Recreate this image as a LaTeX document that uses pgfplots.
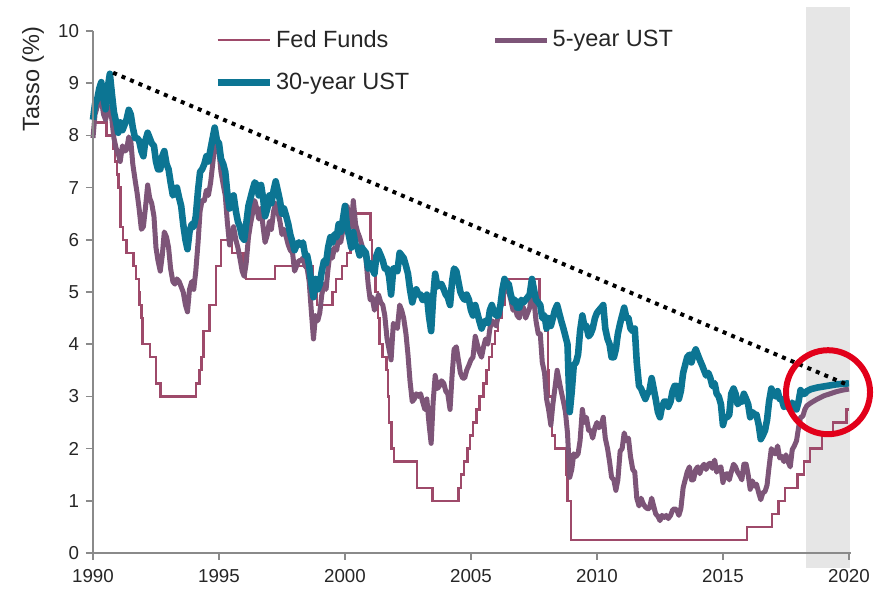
\documentclass[border=0pt]{standalone}
\usepackage{pgfplots}
\usepackage{pgfplotstable}
\pgfplotsset{compat=1.18}
\usepackage{fontspec}
\setmainfont{Liberation Sans}
\definecolor{ffcol}{HTML}{9E4A6A}
\definecolor{fivecol}{HTML}{7D5578}
\definecolor{thirtycol}{HTML}{0C7593}
\definecolor{axisgray}{HTML}{8A8A8A}
\definecolor{labelgray}{HTML}{262626}
\definecolor{shadegray}{HTML}{E6E6E6}
\definecolor{circred}{HTML}{E2001A}

\pgfplotstableread{
x y30 y5
1990.00 8.30 7.95
1990.08 8.60 8.40
1990.17 8.70 8.55
1990.25 8.90 8.75
1990.33 9.02 8.70
1990.42 8.70 8.40
1990.50 8.50 8.30
1990.58 8.90 8.45
1990.67 9.18 8.55
1990.75 8.80 8.30
1990.83 8.45 7.95
1990.92 8.25 7.75
1991.00 8.05 7.65
1991.08 8.25 7.50
1991.17 8.10 7.80
1991.25 8.20 7.70
1991.33 8.30 7.72
1991.42 8.49 7.97
1991.50 8.40 7.90
1991.58 8.15 7.45
1991.67 7.95 7.15
1991.75 7.95 6.90
1991.83 7.90 6.60
1991.92 7.70 6.20
1992.00 7.60 6.25
1992.08 7.90 6.60
1992.17 8.05 7.05
1992.25 7.95 6.80
1992.33 7.85 6.70
1992.42 7.80 6.45
1992.50 7.50 5.85
1992.58 7.35 5.60
1992.67 7.35 5.40
1992.75 7.60 5.70
1992.83 7.70 6.15
1992.92 7.45 6.05
1993.00 7.35 5.85
1993.08 7.10 5.45
1993.17 6.85 5.20
1993.25 6.90 5.15
1993.33 7.00 5.25
1993.42 6.80 5.20
1993.50 6.65 5.10
1993.58 6.30 5.00
1993.67 6.00 4.75
1993.75 5.82 4.62
1993.83 6.15 5.05
1993.92 6.30 5.20
1994.00 6.25 5.05
1994.08 6.45 5.40
1994.17 6.95 5.95
1994.25 7.30 6.55
1994.33 7.35 6.75
1994.42 7.45 6.75
1994.50 7.60 6.95
1994.58 7.50 6.85
1994.67 7.75 7.10
1994.75 7.95 7.45
1994.83 8.15 7.80
1994.92 7.90 7.80
1995.00 7.85 7.70
1995.08 7.55 7.30
1995.17 7.45 7.05
1995.25 7.30 6.85
1995.33 6.90 6.35
1995.42 6.60 5.90
1995.50 6.80 6.05
1995.58 6.85 6.25
1995.67 6.55 6.00
1995.75 6.35 5.85
1995.83 6.25 5.65
1995.92 6.05 5.40
1996.00 6.00 5.30
1996.08 6.30 5.55
1996.17 6.65 6.05
1996.25 6.80 6.30
1996.33 6.95 6.50
1996.42 7.10 6.75
1996.50 7.05 6.60
1996.58 6.85 6.40
1996.67 7.05 6.60
1996.75 6.80 6.25
1996.83 6.45 5.95
1996.92 6.60 6.10
1997.00 6.85 6.35
1997.08 6.70 6.20
1997.17 6.95 6.55
1997.25 7.12 6.70
1997.33 6.95 6.55
1997.42 6.75 6.35
1997.50 6.50 6.10
1997.58 6.60 6.20
1997.67 6.45 6.05
1997.75 6.30 5.90
1997.83 6.10 5.80
1997.92 5.95 5.75
1998.00 5.80 5.40
1998.08 5.90 5.50
1998.17 5.95 5.60
1998.25 5.90 5.60
1998.33 5.95 5.65
1998.42 5.70 5.50
1998.50 5.70 5.45
1998.58 5.50 5.20
1998.67 5.15 4.60
1998.75 4.90 4.10
1998.83 5.25 4.55
1998.92 5.05 4.45
1999.00 5.15 4.60
1999.08 5.40 4.95
1999.17 5.60 5.15
1999.25 5.55 5.05
1999.33 5.85 5.45
1999.42 6.05 5.80
1999.50 5.95 5.65
1999.58 6.10 5.85
1999.67 6.05 5.80
1999.75 6.30 6.05
1999.83 6.15 5.95
1999.92 6.40 6.20
2000.00 6.65 6.55
2000.08 6.25 6.65
2000.17 6.05 6.45
2000.25 5.85 6.25
2000.33 6.15 6.75
2000.42 5.90 6.30
2000.50 5.85 6.15
2000.58 5.70 6.05
2000.67 5.85 5.90
2000.75 5.80 5.75
2000.83 5.75 5.65
2000.92 5.45 5.15
2001.00 5.55 4.85
2001.08 5.45 4.90
2001.17 5.35 4.65
2001.25 5.70 4.80
2001.33 5.80 4.95
2001.42 5.70 4.80
2001.50 5.60 4.75
2001.58 5.45 4.55
2001.67 5.45 4.10
2001.75 5.30 3.90
2001.83 4.95 3.70
2001.92 5.45 4.40
2002.00 5.45 4.35
2002.08 5.40 4.30
2002.17 5.75 4.75
2002.25 5.70 4.65
2002.33 5.65 4.50
2002.42 5.50 4.20
2002.50 5.35 3.80
2002.58 5.05 3.30
2002.67 4.80 2.90
2002.75 4.95 2.95
2002.83 5.05 3.05
2002.92 4.95 3.00
2003.00 4.95 3.05
2003.08 4.85 2.90
2003.17 4.85 2.75
2003.25 4.95 2.95
2003.33 4.55 2.50
2003.42 4.25 2.10
2003.50 4.90 2.90
2003.58 5.35 3.40
2003.67 5.10 3.15
2003.75 5.15 3.20
2003.83 5.15 3.30
2003.92 5.05 3.25
2004.00 4.95 3.10
2004.08 4.90 3.05
2004.17 4.75 2.75
2004.25 5.20 3.40
2004.33 5.45 3.90
2004.42 5.40 3.95
2004.50 5.20 3.70
2004.58 5.00 3.45
2004.67 4.90 3.35
2004.75 4.85 3.35
2004.83 4.95 3.50
2004.92 4.85 3.60
2005.00 4.65 3.70
2005.08 4.55 3.75
2005.17 4.75 4.15
2005.25 4.60 4.00
2005.33 4.45 3.85
2005.42 4.30 3.75
2005.50 4.40 3.95
2005.58 4.45 4.10
2005.67 4.40 4.00
2005.75 4.65 4.30
2005.83 4.75 4.45
2005.92 4.60 4.40
2006.00 4.55 4.35
2006.08 4.55 4.55
2006.17 4.75 4.70
2006.25 5.05 4.90
2006.33 5.25 5.02
2006.42 5.15 5.05
2006.50 5.15 5.00
2006.58 4.95 4.85
2006.67 4.80 4.65
2006.75 4.85 4.70
2006.83 4.70 4.55
2006.92 4.70 4.50
2007.00 4.85 4.75
2007.08 4.80 4.70
2007.17 4.85 4.50
2007.25 4.90 4.60
2007.33 4.95 4.70
2007.42 5.25 5.00
2007.50 5.05 4.85
2007.58 4.85 4.45
2007.67 4.80 4.20
2007.75 4.75 4.20
2007.83 4.50 3.65
2007.92 4.55 3.45
2008.00 4.30 2.95
2008.08 4.50 2.75
2008.17 4.35 2.45
2008.25 4.50 2.85
2008.33 4.65 3.15
2008.42 4.75 3.50
2008.50 4.60 3.30
2008.58 4.45 3.10
2008.67 4.30 2.90
2008.75 4.15 2.70
2008.83 4.00 2.30
2008.92 2.70 1.45
2009.00 3.10 1.60
2009.08 3.60 1.90
2009.17 3.65 1.85
2009.25 3.80 1.90
2009.33 4.25 2.15
2009.42 4.55 2.75
2009.50 4.35 2.50
2009.58 4.35 2.60
2009.67 4.15 2.35
2009.75 4.20 2.35
2009.83 4.30 2.20
2009.92 4.50 2.40
2010.00 4.60 2.50
2010.08 4.65 2.40
2010.17 4.70 2.45
2010.25 4.75 2.60
2010.33 4.30 2.20
2010.42 4.10 2.00
2010.50 4.00 1.75
2010.58 3.75 1.45
2010.67 3.75 1.40
2010.75 3.90 1.20
2010.83 4.20 1.40
2010.92 4.40 1.95
2011.00 4.55 2.00
2011.08 4.70 2.30
2011.17 4.50 2.15
2011.25 4.50 2.20
2011.33 4.30 1.85
2011.42 4.25 1.60
2011.50 4.30 1.55
2011.58 3.65 1.05
2011.67 3.20 0.90
2011.75 3.15 1.05
2011.83 3.05 0.95
2011.92 2.95 0.88
2012.00 3.05 0.85
2012.08 3.10 0.85
2012.17 3.35 1.05
2012.25 3.15 0.90
2012.33 2.95 0.75
2012.42 2.70 0.70
2012.50 2.60 0.62
2012.58 2.80 0.72
2012.67 2.90 0.68
2012.75 2.90 0.72
2012.83 2.80 0.66
2012.92 2.90 0.72
2013.00 3.10 0.82
2013.08 3.20 0.85
2013.17 3.20 0.82
2013.25 2.95 0.72
2013.33 3.10 0.85
2013.42 3.45 1.25
2013.50 3.60 1.40
2013.58 3.75 1.55
2013.67 3.80 1.65
2013.75 3.65 1.40
2013.83 3.80 1.40
2013.92 3.90 1.60
2014.00 3.80 1.65
2014.08 3.70 1.52
2014.17 3.60 1.65
2014.25 3.50 1.70
2014.33 3.40 1.60
2014.42 3.45 1.70
2014.50 3.35 1.72
2014.58 3.20 1.62
2014.67 3.25 1.78
2014.75 3.05 1.55
2014.83 3.00 1.62
2014.92 2.85 1.65
2015.00 2.45 1.35
2015.08 2.60 1.50
2015.17 2.60 1.52
2015.25 2.65 1.40
2015.33 3.05 1.55
2015.42 3.15 1.70
2015.50 3.05 1.65
2015.58 2.85 1.55
2015.67 2.90 1.48
2015.75 2.90 1.40
2015.83 3.05 1.70
2015.92 2.95 1.70
2016.00 2.85 1.50
2016.08 2.60 1.22
2016.17 2.70 1.38
2016.25 2.65 1.28
2016.33 2.65 1.32
2016.42 2.45 1.15
2016.50 2.18 1.02
2016.58 2.25 1.15
2016.67 2.35 1.18
2016.75 2.55 1.30
2016.83 2.90 1.65
2016.92 3.15 2.00
2017.00 3.05 1.92
2017.08 3.00 1.90
2017.17 3.10 2.05
2017.25 2.95 1.82
2017.33 2.95 1.85
2017.42 2.80 1.75
2017.50 2.90 1.88
2017.58 2.80 1.75
2017.67 2.75 1.65
2017.75 2.88 1.98
2017.83 2.82 2.05
2017.92 2.75 2.15
2018.00 2.90 2.40
2018.08 3.12 2.60
2018.17 3.05 2.62
2018.25 3.05 2.75
2018.33 3.10 2.82
2018.50 3.14 2.88
2018.75 3.17 2.95
2019.00 3.19 3.01
2019.25 3.21 3.05
2019.50 3.23 3.09
2019.75 3.24 3.12
2020.00 3.25 3.14
}\yields

\pgfplotstableread{
x ff
1990.00 8.25
1990.54 8.00
1990.82 7.75
1990.87 7.50
1990.96 7.25
1991.02 7.00
1991.09 6.25
1991.19 6.00
1991.33 5.75
1991.60 5.50
1991.70 5.25
1991.83 5.00
1991.85 4.75
1991.93 4.50
1991.97 4.00
1992.27 3.75
1992.50 3.25
1992.68 3.00
1994.09 3.25
1994.22 3.50
1994.30 3.75
1994.38 4.25
1994.62 4.75
1994.87 5.50
1995.08 6.00
1995.51 5.75
1995.97 5.50
1996.08 5.25
1997.23 5.50
1998.74 5.25
1998.79 5.00
1998.88 4.75
1999.50 5.00
1999.65 5.25
1999.88 5.50
2000.09 5.75
2000.22 6.00
2000.38 6.50
2001.01 6.00
2001.08 5.50
2001.21 5.00
2001.30 4.50
2001.37 4.00
2001.49 3.75
2001.64 3.50
2001.71 3.00
2001.75 2.50
2001.85 2.00
2001.94 1.75
2002.85 1.25
2003.48 1.00
2004.50 1.25
2004.61 1.50
2004.72 1.75
2004.86 2.00
2004.95 2.25
2005.09 2.50
2005.22 2.75
2005.34 3.00
2005.50 3.25
2005.61 3.50
2005.72 3.75
2005.84 4.00
2005.95 4.25
2006.08 4.50
2006.24 4.75
2006.36 5.00
2006.49 5.25
2007.72 4.75
2007.83 4.50
2007.95 4.25
2008.06 3.50
2008.08 3.00
2008.21 2.25
2008.33 2.00
2008.77 1.50
2008.83 1.00
2008.96 0.25
2015.96 0.50
2016.95 0.75
2017.21 1.00
2017.46 1.25
2017.96 1.50
2018.22 1.75
2018.45 2.00
2018.93 2.25
2019.37 2.50
2019.90 2.75
2020.00 2.75
}\fedfunds

\begin{document}
\begin{tikzpicture}
\begin{axis}[
  x=12.6bp, y=26.1bp,
  xmin=1990, xmax=2020.08, ymin=0, ymax=10,
  axis x line*=bottom, axis y line*=left,
  axis line style={draw=axisgray, line width=0.75bp},
  xtick={1990,1995,2000,2005,2010,2015,2020},
  xticklabels={1990,1995,2000,2005,2010,2015,2020},
  ytick={0,1,2,3,4,5,6,7,8,9,10},
  yticklabels={0,1,2,3,4,5,6,7,8,9,10},
  tick align=outside, major tick length=3.5bp,
  tick style={draw=axisgray, line width=0.75bp},
  ticklabel style={font=\fontsize{9.4}{11}\selectfont, text=labelgray},
  xticklabel style={yshift=-1bp},
  /pgf/number format/assume math mode=true,
  clip=false, axis on top,
  legend columns=2,
  legend cell align=left,
  legend style={draw=none, fill=none, at={(axis cs:1994.56,10.16)}, anchor=north west,
    font=\fontsize{11.8}{14}\selectfont, text=labelgray,
    nodes={inner sep=1.6bp},
    row sep=8bp,
    /tikz/every even column/.append style={column sep=40bp}},
  legend image code/.code={\draw[#1] (0bp,0bp) -- (26bp,0bp);},
]
% invisible frame giving the picture its proportions
\path (axis cs:1986.31,-0.67) rectangle (axis cs:2021.47,10.594);
% forecast shading
\addplot[forget plot, fill=shadegray, draw=none] coordinates {(2018.28,-0.29) (2020.06,-0.29) (2020.06,10.46) (2018.28,10.46)} -- cycle;

\addplot[const plot mark left, color=ffcol, line width=1.2bp, no markers] table[x=x, y=ff] {\fedfunds};
\addlegendentry{Fed Funds}
\addplot[color=fivecol, line width=2.5bp, no markers, line join=round] table[x=x, y=y5] {\yields};
\addlegendentry{5-year UST}
\addplot[color=thirtycol, line width=3.3bp, no markers, line join=round] table[x=x, y=y30] {\yields};
\addlegendentry{30-year UST}

% trend line
\addplot[forget plot, black, line width=2bp, dash pattern=on 2bp off 2.6bp] coordinates {(1990.8,9.2) (2019.95,3.22)};

\draw[circred, line width=3bp] (axis cs:2019.17,3.08) circle [radius=21bp];
\node[rotate=90, font=\fontsize{11.8}{14}\selectfont, text=labelgray] at (axis cs:1987.62,9.08) {Tasso (\%)};
\end{axis}
\end{tikzpicture}
\end{document}
